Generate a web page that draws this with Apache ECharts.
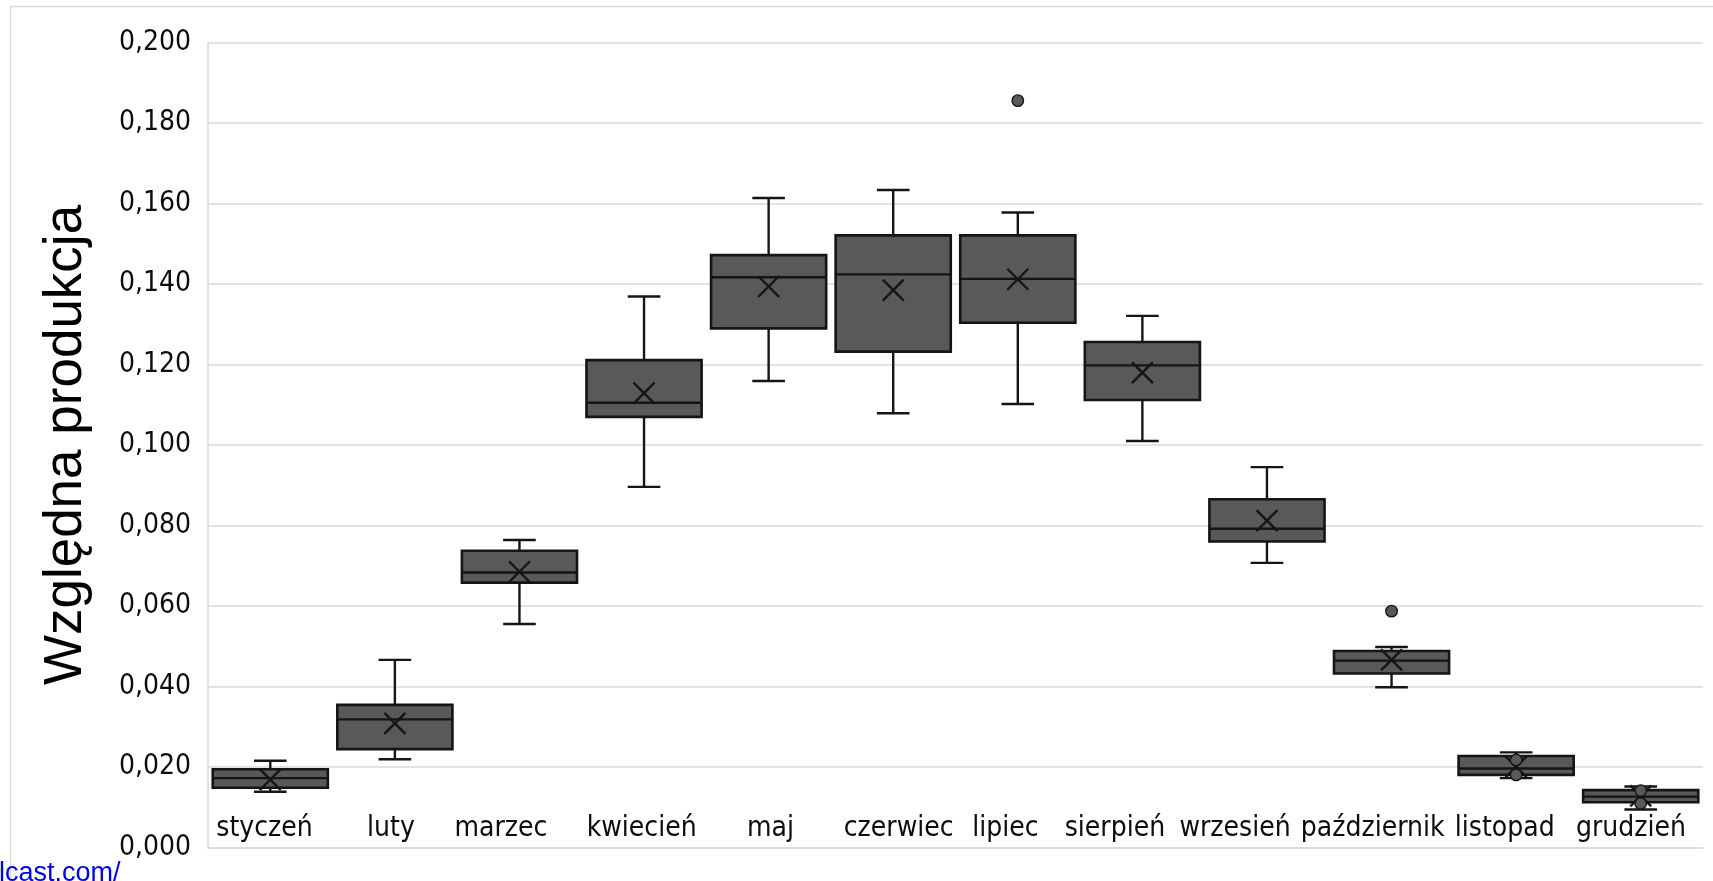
<!DOCTYPE html>
<html>
<head>
<meta charset="utf-8">
<script src="https://cdn.jsdelivr.net/npm/echarts@6/dist/echarts.min.js"></script>
<style>
html,body{margin:0;padding:0;background:#fff;}
#chart{width:1713px;height:881px;}
</style>
</head>
<body>
<div id="chart"></div>
<script>
// ---- data ----
const categories = ['styczeń','luty','marzec','kwiecień','maj','czerwiec','lipiec','sierpień','wrzesień','październik','listopad','grudzień'];
const whiskerMin = [0.0138, 0.0219, 0.0555, 0.0896, 0.1159, 0.1079, 0.1102, 0.1010, 0.0707, 0.0398, 0.0172, 0.0094];
const quartile1  = [0.0148, 0.0244, 0.0658, 0.1070, 0.1290, 0.1232, 0.1304, 0.1112, 0.0760, 0.0432, 0.0180, 0.0112];
const medians    = [0.0172, 0.0318, 0.0683, 0.1105, 0.1417, 0.1424, 0.1413, 0.1198, 0.0792, 0.0464, 0.0196, 0.0126];
const quartile3  = [0.0194, 0.0354, 0.0737, 0.1211, 0.1472, 0.1521, 0.1521, 0.1256, 0.0865, 0.0488, 0.0227, 0.0142];
const whiskerMax = [0.0215, 0.0466, 0.0764, 0.1369, 0.1614, 0.1634, 0.1578, 0.1321, 0.0945, 0.0498, 0.0236, 0.0151];
const means      = [0.0168, 0.0308, 0.0685, 0.1129, 0.1394, 0.1385, 0.1412, 0.1180, 0.0812, 0.0466, 0.0200, 0.0128];
const outlierCategory = ['lipiec', 'październik', 'listopad', 'listopad', 'grudzień', 'grudzień'];
const outlierValues   = [0.1856, 0.0587, 0.0217, 0.0180, 0.0141, 0.0109];
const yAxisMin = 0, yAxisMax = 0.2, yAxisStep = 0.02;
const yAxisTitle = 'Względna produkcja';
const sourceText = 'lcast.com/';

// ---- presentation ----
const labelShift = [-5.7, -3.9, -18.6, -2.4, 1.9, 5.5, -12.4, -27.5, -31.9, -18.8, -11.4, -9.7];
const labelFont = "'DejaVu Sans Condensed', 'DejaVu Sans', sans-serif";
const labelSize = 28;
const TEXT = '#0d0d0d';

const boxData = categories.map((c, i) => [i, whiskerMin[i], quartile1[i], medians[i], quartile3[i], whiskerMax[i], means[i]]);
const pointData = outlierCategory.map((c, k) => [categories.indexOf(c), outlierValues[k]]);

const rich = {};
labelShift.forEach((d, i) => {
  rich['p' + i] = {
    fontFamily: labelFont, fontSize: labelSize, color: TEXT,
    padding: [0, d < 0 ? -2 * d : 0, 0, d > 0 ? 2 * d : 0]
  };
});

const LINE = '#151515';
function renderBox(params, api) {
  const i = api.value(0);
  const band = api.size([1, 0])[0];
  const bw = band * 0.924, cw = band * 0.262;
  const pMin = api.coord([i, api.value(1)]);
  const pQ1 = api.coord([i, api.value(2)]);
  const pMed = api.coord([i, api.value(3)]);
  const pQ3 = api.coord([i, api.value(4)]);
  const pMax = api.coord([i, api.value(5)]);
  const pMean = api.coord([i, api.value(6)]);
  const cx = pMed[0];
  const ls = {stroke: LINE, lineWidth: 2.4};
  const m = 10.5;
  return {
    type: 'group',
    children: [
      {type: 'line', shape: {x1: cx, y1: pMax[1], x2: cx, y2: pQ3[1]}, style: ls},
      {type: 'line', shape: {x1: cx, y1: pQ1[1], x2: cx, y2: pMin[1]}, style: ls},
      {type: 'line', shape: {x1: cx - cw / 2, y1: pMax[1], x2: cx + cw / 2, y2: pMax[1]}, style: ls},
      {type: 'line', shape: {x1: cx - cw / 2, y1: pMin[1], x2: cx + cw / 2, y2: pMin[1]}, style: ls},
      {type: 'rect', shape: {x: cx - bw / 2, y: pQ3[1], width: bw, height: pQ1[1] - pQ3[1]},
        style: {fill: '#595959', stroke: LINE, lineWidth: 2.6}},
      {type: 'line', shape: {x1: cx - bw / 2, y1: pMed[1], x2: cx + bw / 2, y2: pMed[1]}, style: ls},
      {type: 'line', shape: {x1: cx - m, y1: pMean[1] - m, x2: cx + m, y2: pMean[1] + m}, style: ls},
      {type: 'line', shape: {x1: cx - m, y1: pMean[1] + m, x2: cx + m, y2: pMean[1] - m}, style: ls}
    ]
  };
}

const chart = echarts.init(document.getElementById('chart'), null, {renderer: 'canvas'});
chart.setOption({
  animation: false,
  backgroundColor: '#ffffff',
  grid: {left: 208, right: 10, top: 42.7, bottom: 33.7, containLabel: false},
  xAxis: {
    type: 'category',
    data: categories,
    boundaryGap: true,
    axisLine: {show: true, lineStyle: {color: '#d9d9d9', width: 1.5}},
    axisTick: {show: false},
    splitLine: {show: false},
    axisLabel: {
      inside: true, interval: 0, hideOverlap: false, margin: 5,
      fontFamily: labelFont, fontSize: labelSize, color: TEXT,
      formatter: (v, idx) => '{p' + idx + '|' + v + '}',
      rich: rich
    }
  },
  yAxis: {
    type: 'value',
    min: yAxisMin, max: yAxisMax, interval: yAxisStep,
    name: yAxisTitle,
    nameLocation: 'middle', nameRotate: 90, nameGap: 115,
    nameTextStyle: {fontFamily: "'Liberation Sans', Arial, sans-serif", fontSize: 53, color: '#000'},
    axisLine: {show: true, lineStyle: {color: '#d9d9d9', width: 1.5}},
    axisTick: {show: false},
    splitLine: {show: true, lineStyle: {color: '#d9d9d9', width: 1.5}},
    axisLabel: {
      margin: 17, fontFamily: labelFont, fontSize: labelSize, color: TEXT,
      formatter: v => v.toFixed(3).replace('.', ',')
    }
  },
  series: [
    {
      type: 'custom',
      name: 'boxes',
      renderItem: renderBox,
      data: boxData,
      encode: {x: 0, y: [1, 2, 3, 4, 5, 6]},
      z: 3
    },
    {
      type: 'scatter',
      name: 'points',
      data: pointData,
      symbol: 'circle',
      symbolSize: 11.5,
      itemStyle: {color: '#595959', borderColor: LINE, borderWidth: 1.4, opacity: 1},
      z: 4
    }
  ],
  graphic: [
    {type: 'rect', silent: true, z: -1,
      shape: {x: 10.5, y: 6.5, width: 1760, height: 920},
      style: {fill: 'none', stroke: '#d9d9d9', lineWidth: 1.5}},
    {type: 'text', silent: true, left: -1, top: 860,
      style: {text: sourceText, fill: '#0000ee', font: "27px 'Liberation Sans', Arial, sans-serif"}}
  ]
});
</script>
</body>
</html>
